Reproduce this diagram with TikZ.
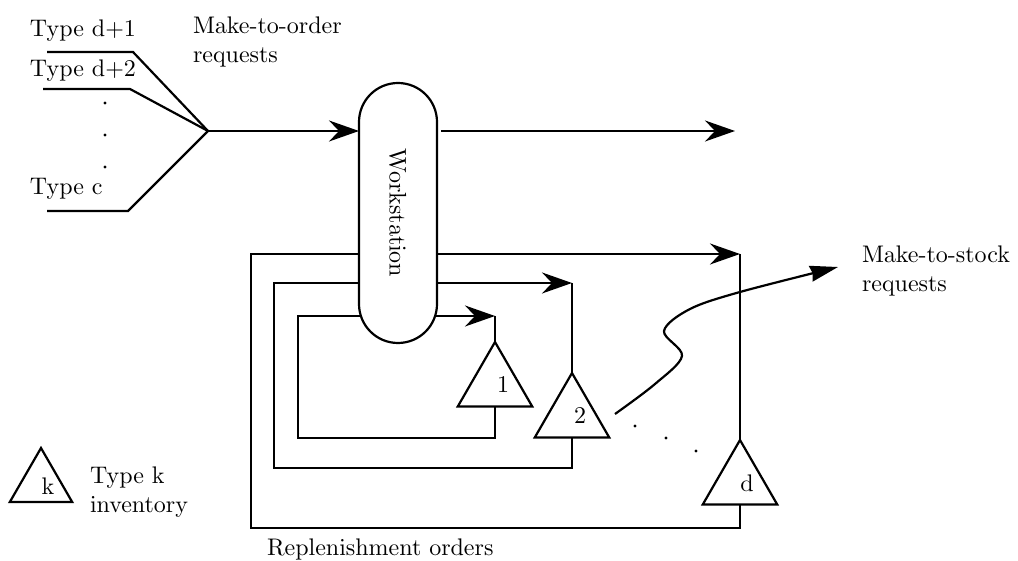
\documentclass[tikz,border=0pt]{standalone}
\usetikzlibrary{arrows.meta,shapes.geometric}
\font\reffont=cmr10 at 24pt
\begin{document}
\begin{tikzpicture}[x=1pt,y=-1pt,
  every node/.style={inner sep=0pt, outer sep=0pt},
  txt/.style={font=\fontsize{24}{29}\selectfont\reffont, align=left},
  ln/.style={line width=2.2pt},
  arr/.style={ln, -{Stealth[length=30pt,width=21pt,inset=10pt]}},
  tri/.style={draw, line width=2.2pt, regular polygon, regular polygon sides=3, minimum size=86pt},
  wsbox/.style={draw, fill=white, line width=2.2pt, rounded corners=39pt, minimum width=260pt, minimum height=78pt, rotate=-90, font=\fontsize{24}{29}\selectfont\reffont},
  smalldot/.style={fill, circle, minimum size=3.4pt}
]
\useasboundingbox (0,0) rectangle (1018,561);

% input lines
\coordinate (a1) at (47,52);  \coordinate (b1) at (133,52);
\coordinate (a2) at (43,89);  \coordinate (b2) at (130,89);
\coordinate (a3) at (47,211); \coordinate (b3) at (128,211);
\coordinate (conv) at (208,131);
\draw[ln] (a1) -- (b1) -- (conv);
\draw[ln] (a2) -- (b2) -- (conv);
\draw[ln] (a3) -- (b3) -- (conv);
\node[smalldot] (d1) at (105,103) {};
\node[smalldot] (d2) at (105,135) {};
\node[smalldot] (d3) at (105,167) {};

\node[txt, anchor=west] (ty1) at (30,31) {Type d+1};
\node[txt, anchor=west] (ty2) at (30,71) {Type d+2};
\node[txt, anchor=west] (tyc) at (30,189) {Type c};
\node[txt, anchor=north west] (mto) at (193,17) {Make-to-order\\requests};

% inventories
\node[tri, label={[txt, xshift=8pt]center:1}] (t1) at (495,385) {};
\node[tri, label={[txt, xshift=8pt]center:2}] (t2) at (572,416) {};
\node[tri, label={[txt, xshift=7pt]center:d}] (td) at (740,483) {};

% loops
\coordinate (l1b) at (298,438); \coordinate (l1t) at (495,316);
\coordinate (l2b) at (274,468); \coordinate (l2t) at (572,283);
\coordinate (ldb) at (251,528); \coordinate (ldt) at (740,254);
\draw[arr] (t1.south) |- (l1b) |- (l1t);
\draw[ln] (l1t) -- (t1.north);
\draw[arr] (t2.south) |- (l2b) |- (l2t);
\draw[ln] (l2t) -- (t2.north);
\draw[arr] (td.south) |- (ldb) |- (ldt);
\draw[ln] (ldt) -- (td.north);

% workstation
\node[wsbox] (ws) at (398,213) {Workstation};
\coordinate (outend) at (735,131);
\draw[arr] (conv) -- (conv -| ws.south);
\draw[arr] ([xshift=4pt]conv -| ws.north) -- (outend);

% make-to-stock demand
\coordinate (cs) at (615,414);
\coordinate (ce) at (838,267);
\draw[ln, -{Stealth[length=28pt,width=16pt,inset=2pt]}] plot[smooth, tension=0.55] coordinates {(cs) (655,384) (682,356) (664,331) (690,309) (740,292) (ce)};
\node[txt, anchor=north west] (mts) at (862,246) {Make-to-stock\\requests};

\node[smalldot] (e1) at (635,426) {};
\node[smalldot] (e2) at (666,438) {};
\node[smalldot] (e3) at (696,451) {};

% legend
\node[draw, line width=2.2pt, regular polygon, regular polygon sides=3, minimum size=72pt, label={[txt, xshift=7pt, yshift=-2pt]center:k}] (tk) at (41,484) {};
\node[txt, anchor=north west] (lgd) at (90,467) {Type k\\inventory};

\node[txt, anchor=west] (rep) at (267,549) {Replenishment orders};
\end{tikzpicture}
\end{document}
